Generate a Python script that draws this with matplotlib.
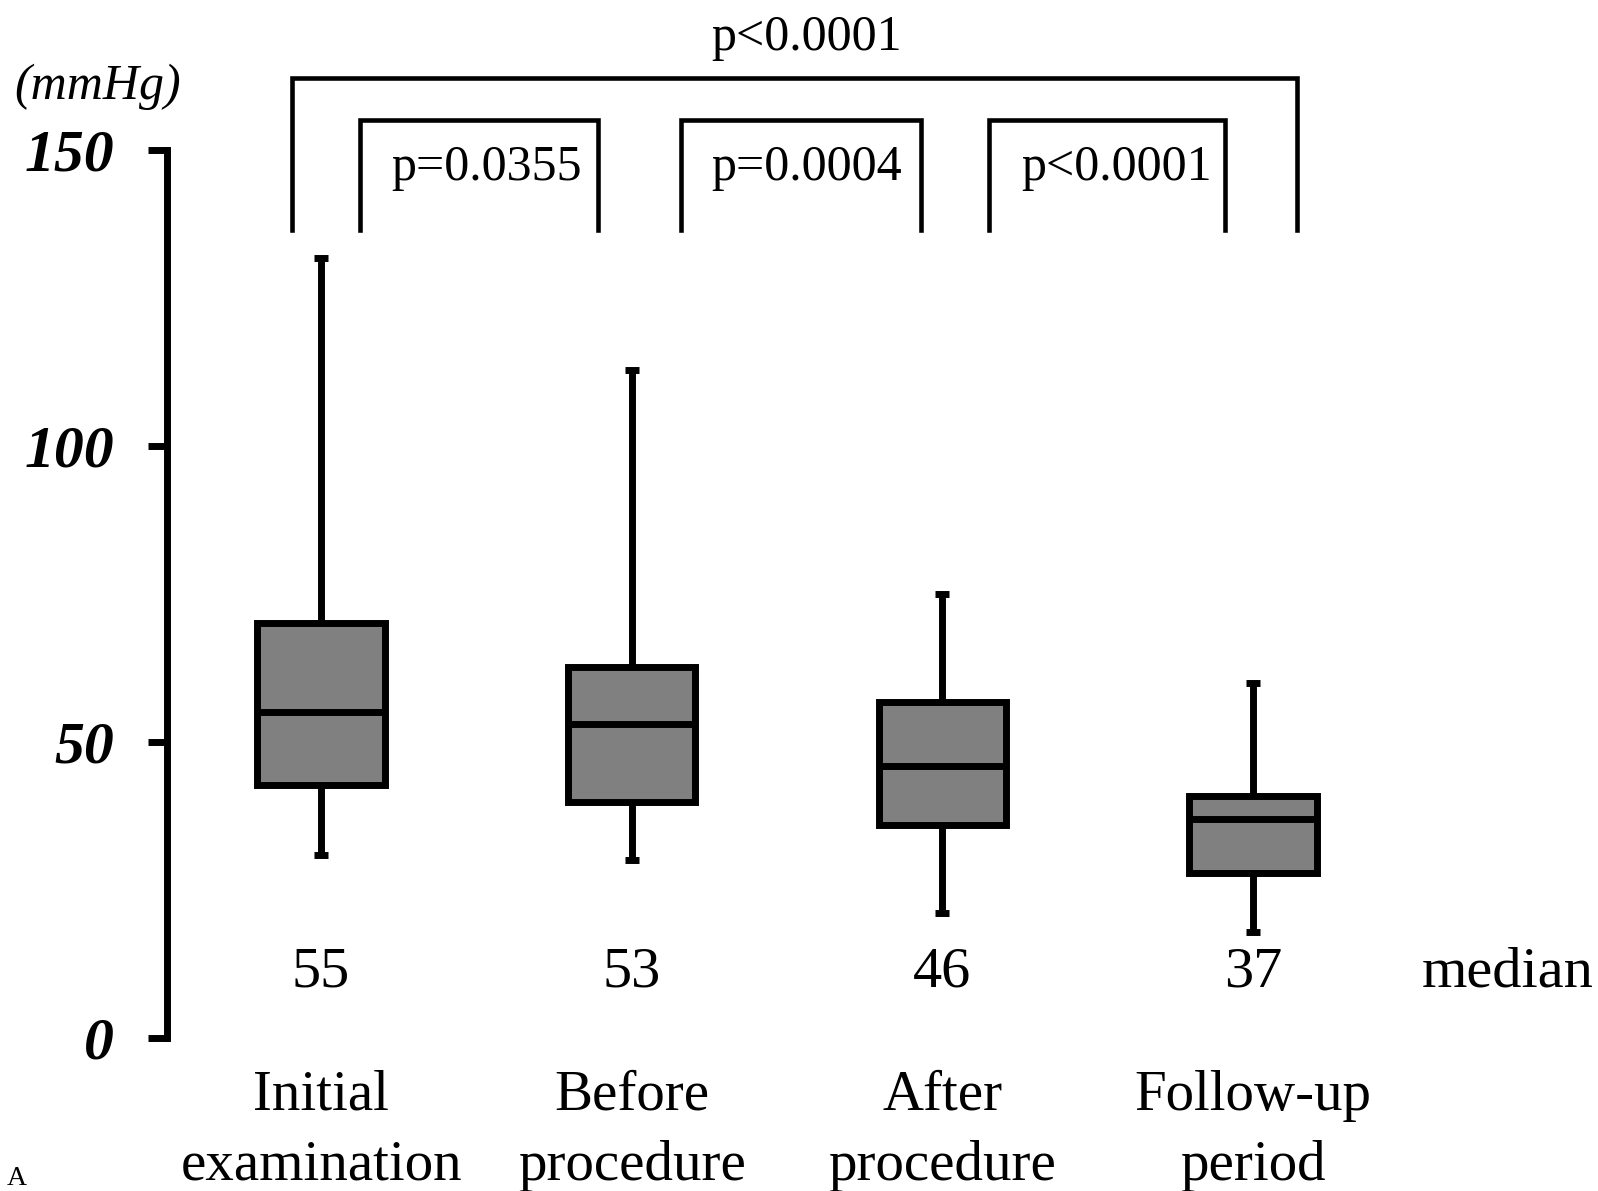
import matplotlib
matplotlib.use("Agg")
import matplotlib.pyplot as plt

# ---- data ----
categories = ["Initial\nexamination", "Before\nprocedure", "After\nprocedure", "Follow-up\nperiod"]
medians = [55, 53, 46, 37]
q1 = [42.7, 39.9, 36.0, 27.9]
q3 = [70.1, 62.7, 56.8, 40.9]
whisker_low = [30.9, 30.1, 21.1, 17.9]
whisker_high = [131.8, 112.8, 75.0, 60.0]
median_labels = ["55", "53", "46", "37"]
y_ticks = [0, 50, 100, 150]
comparisons = [(1, 2, "p=0.0355"), (2, 3, "p=0.0004"), (3, 4, "p<0.0001")]
overall = (1, 4, "p<0.0001")

plt.rcParams['font.family'] = ['Liberation Serif', 'DejaVu Serif']

fig = plt.figure(figsize=(15.98, 11.91), dpi=100)
ax = fig.add_axes([0.1045, 0.1285, 0.8955, 0.7456])

positions = [1, 2, 3, 4]
stats = []
for i in range(4):
    stats.append(dict(med=medians[i], q1=q1[i], q3=q3[i],
                      whislo=whisker_low[i], whishi=whisker_high[i], fliers=[]))

lw = 5
ax.bxp(stats, positions=positions, widths=0.41, capwidths=0.045,
       patch_artist=True, showfliers=False,
       boxprops=dict(facecolor='#808080', edgecolor='black', linewidth=lw),
       medianprops=dict(color='black', linewidth=lw, solid_capstyle='butt'),
       whiskerprops=dict(color='black', linewidth=lw, solid_capstyle='butt'),
       capprops=dict(color='black', linewidth=lw, solid_capstyle='butt'))

ax.set_xlim(0.504, 5.11)
ax.set_ylim(0, 150)

for s in ['top', 'right', 'bottom']:
    ax.spines[s].set_visible(False)
ax.spines['left'].set_linewidth(lw)
ax.spines['left'].set_capstyle('projecting')

ax.set_yticks(y_ticks)
ax.set_yticklabels([str(v) for v in y_ticks], fontsize=43, fontweight='bold', fontstyle='italic')
ax.tick_params(axis='y', direction='out', length=14, width=lw, pad=24)

ax.set_xticks(positions)
ax.set_xticklabels(categories, fontsize=41, linespacing=1.45)
ax.tick_params(axis='x', length=0, pad=23)

# median numbers
for p, lab in zip(positions, median_labels):
    ax.text(p, 11.0, lab, fontsize=42, ha='center', va='center')
ax.text(4.82, 11.0, "median", fontsize=42, ha='center', va='center', clip_on=False)

# (mmHg)
fig.text(14 / 1598, 1 - 87 / 1191, "(mmHg)", fontsize=36, fontstyle='italic', ha='left', va='center')

# significance brackets
blw = 3.3
bottom_y = 136.5
small_top = 155.1
small_spans = [(1.126, 1.89), (2.16, 2.93), (3.15, 3.91)]
text_x = [1.534, 2.564, 3.559]
for (a, b), tx, (_, _, lab) in zip(small_spans, text_x, comparisons):
    ax.plot([a, a, b, b], [bottom_y, small_top, small_top, bottom_y], color='black',
            lw=blw, clip_on=False, solid_joinstyle='miter')
    ax.text(tx, 147.0, lab, fontsize=36, ha='center', va='center', clip_on=False)

big_top = 162.2
ax.plot([0.907, 0.907, 4.14, 4.14], [bottom_y, big_top, big_top, bottom_y], color='black',
        lw=blw, clip_on=False, solid_joinstyle='miter')
ax.text(2.564, 169.0, overall[2], fontsize=36, ha='center', va='center', clip_on=False)

fig.text(0.004, 0.0, "A", fontsize=20, ha='left', va='bottom')

fig.savefig("out.png", dpi=100)
